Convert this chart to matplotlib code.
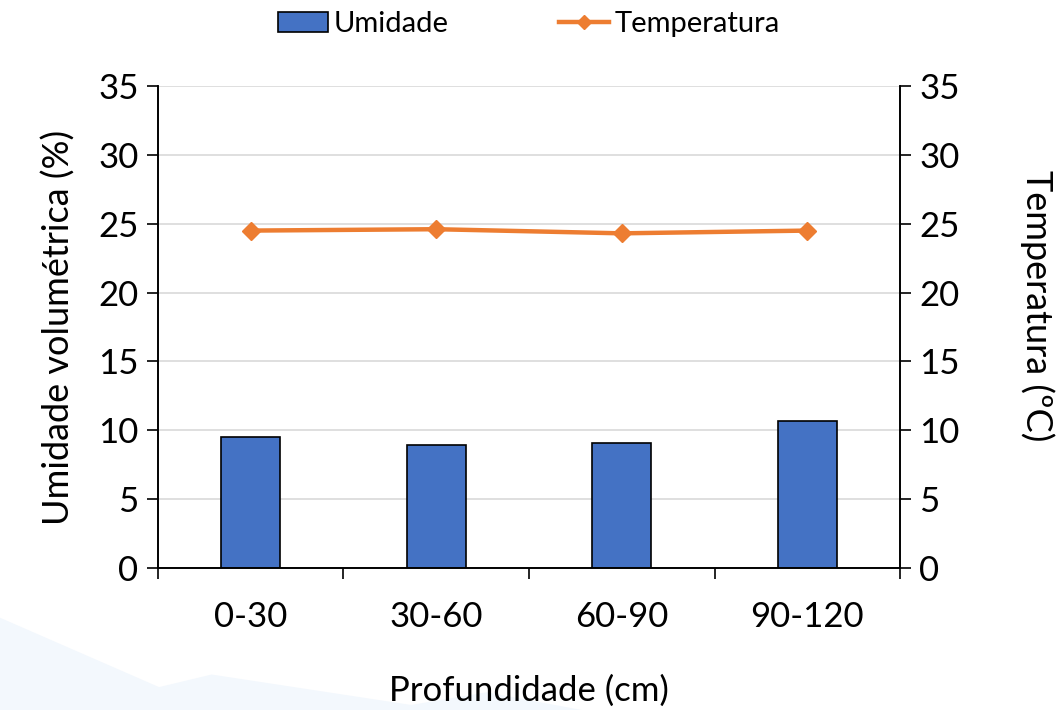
import numpy as np
import matplotlib.pyplot as plt
from matplotlib.patches import Patch, Polygon
from matplotlib.lines import Line2D

# data
depths = ['0-30', '30-60', '60-90', '90-120']
umidade = [9.5, 8.95, 9.1, 10.65]
temperatura = [24.5, 24.6, 24.3, 24.5]

plt.rcParams['font.family'] = ['Lato', 'DejaVu Sans']

fig = plt.figure(figsize=(10.58, 7.10), dpi=100)
ax = fig.add_axes([0.1493, 0.2, 0.7014, 0.6789])
ax2 = ax.twinx()

# very faint background watermark shapes (bottom left)
for pts in [[(0.0, 0.0), (0.0, 0.13), (0.2, 0.0)],
            [(0.06, 0.0), (0.2, 0.05), (0.42, 0.0)],
            [(0.36, 0.0), (0.46, 0.025), (0.55, 0.0)]]:
    fig.patches.append(Polygon(pts, closed=True, transform=fig.transFigure,
                               facecolor='#f3f8fd', edgecolor='none', zorder=-10))

x = np.arange(len(depths))
ax.bar(x, umidade, width=0.32, color='#4472C4', edgecolor='black', linewidth=1.2, zorder=3)
ax2.plot(x, temperatura, color='#ED7D31', lw=3.2, marker='D', ms=9, zorder=4)

for a in (ax, ax2):
    a.set_ylim(0, 35)
    a.set_yticks(np.arange(0, 36, 5))
    a.tick_params(axis='y', direction='out', length=8, width=1.2, labelsize=25, pad=6)
    a.spines['top'].set_visible(False)
    for s in ('left', 'right', 'bottom'):
        a.spines[s].set_linewidth(1.2)

ax.set_xlim(-0.5, 3.5)
ax.set_xticks(x)
ax.set_xticklabels(depths)
ax.set_xticks(np.arange(-0.5, 3.6, 1), minor=True)
ax.tick_params(axis='x', which='major', length=0, labelsize=25, pad=24)
ax.tick_params(axis='x', which='minor', length=8, width=1.2, direction='out')

ax.grid(axis='y', color='#d9d9d9', lw=1.2, zorder=0)
ax.set_axisbelow(True)

ax.set_ylabel('Umidade volumétrica (%)', fontsize=26, labelpad=16)
ax2.set_ylabel('Temperatura (ºC)', fontsize=26, rotation=-90, va='center', ha='center')
ax2.yaxis.set_label_coords(1.185, 0.544)
ax.set_xlabel('Profundidade (cm)', fontsize=25, labelpad=30)

handles = [Patch(facecolor='#4472C4', edgecolor='black', linewidth=1.2),
           Line2D([], [], color='#ED7D31', lw=3.2, marker='D', ms=7)]
fig.legend(handles, ['Umidade', 'Temperatura'], loc='center', bbox_to_anchor=(0.5, 0.966),
           ncol=2, frameon=False, fontsize=21, handlelength=1.7, handletextpad=0.2,
           columnspacing=3.8)

fig.savefig('out.png', dpi=100)
